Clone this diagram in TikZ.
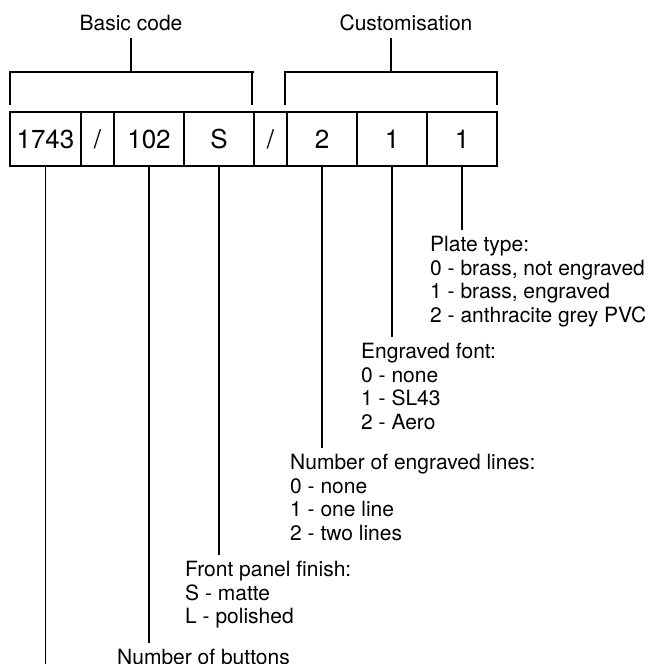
\documentclass[tikz,border=0pt]{standalone}
\usepackage{fontspec}
\setmainfont{TeX Gyre Heros}
\usetikzlibrary{positioning}
\begin{document}
\begin{tikzpicture}[x=1pt,y=-1pt,
		wire/.style={line width=1.8pt},
		cell/.style={draw,line width=1.8pt,minimum height=54pt,inner sep=0pt,outer sep=0pt,font=\fontsize{26}{26}\selectfont},
		head/.style={anchor=base,inner sep=0pt,font=\fontsize{21}{23.5}\selectfont},
		note/.style={anchor=north west,align=left,inner xsep=0pt,inner ysep=6pt,font=\fontsize{21}{23.5}\selectfont}]
	\useasboundingbox (0,0) rectangle (653,664);
	
	\node[cell,minimum width=71pt,anchor=west] (c1) at (10,139) {1743};
	\node[cell,minimum width=33pt,right=0pt of c1] (c2) {/};
	\node[cell,minimum width=70pt,right=0pt of c2] (c3) {102};
	\node[cell,minimum width=70pt,right=0pt of c3] (c4) {S};
	\node[cell,minimum width=33pt,right=0pt of c4] (c5) {/};
	\node[cell,minimum width=70pt,right=0pt of c5] (c6) {2};
	\node[cell,minimum width=70pt,right=0pt of c6] (c7) {1};
	\node[cell,minimum width=70pt,right=0pt of c7] (c8) {1};
	
	\node[head] (basic) at (131,30) {Basic code};
	\node[head] (custom) at (406,30) {Customisation};
	\coordinate (btop) at (0,72);
	\coordinate (bfoot) at (0,105);
	\coordinate (bottom) at (0,664);
	
	\draw[wire] (c1.west |- bfoot) |- (c4.east |- btop) ++(-2,0) -- ([xshift=-2pt]c4.east |- bfoot);
	\draw[wire] (131,38) -- (131,72);
	\draw[wire] ([xshift=-2pt]c6.west |- bfoot) |- (c8.east |- btop) -- (c8.east |- bfoot);
	\draw[wire] (391,38) -- (391,72);
	
	\node[note] (plate) at (430,230) {Plate type:\\0 - brass, not engraved\\1 - brass, engraved\\2 - anthracite grey PVC};
	\node[note] (font) at (361,337) {Engraved font:\\0 - none\\1 - SL43\\2 - Aero};
	\node[note] (lines) at (290,448) {Number of engraved lines:\\0 - none\\1 - one line\\2 - two lines};
	\node[note] (finish) at (185,555) {Front panel finish:\\S - matte\\L - polished};
	\node[note] (buttons) at (117,643) {Number of buttons};
	
	\draw[wire] (c8.south) -- (c8.south |- plate.north);
	\draw[wire] (c7.south) -- (c7.south |- font.north);
	\draw[wire] (c6.south) -- (c6.south |- lines.north);
	\draw[wire] (c4.south) -- (c4.south |- finish.north);
	\draw[wire] (c3.south) -- (c3.south |- buttons.north);
	\draw[wire] (c1.south) -- (c1.south |- bottom);
\end{tikzpicture}
\end{document}
